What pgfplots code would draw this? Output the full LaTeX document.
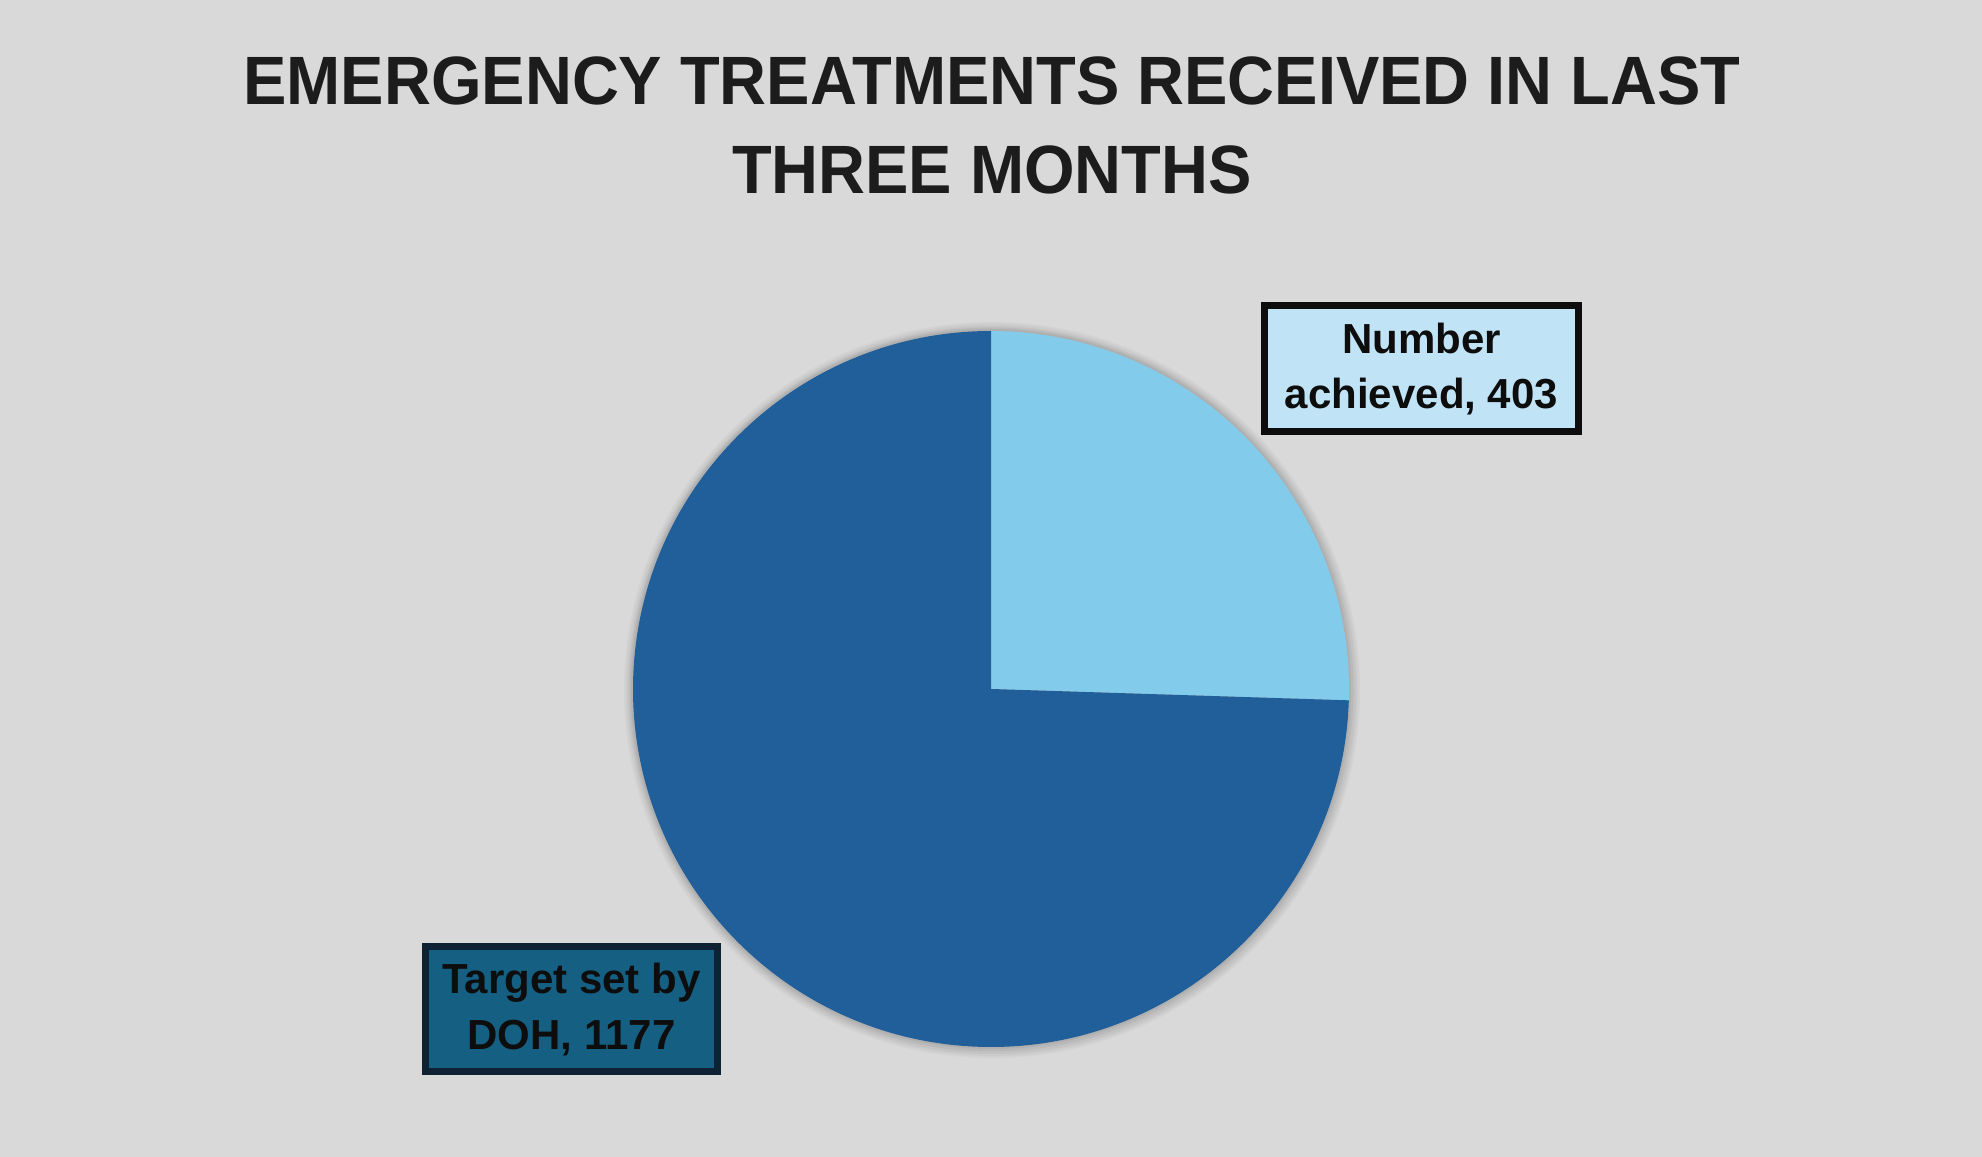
\documentclass[border=0pt]{standalone}
\usepackage{pgfplots}
\usepackage{pgfplotstable}
\pgfplotsset{compat=1.18}
\usepackage{fontspec}
\setmainfont{Liberation Sans}
\newfontfamily\titlefont[FakeStretch=0.95]{Liberation Sans}
\definecolor{bg}{HTML}{D9D9D9}
\definecolor{lightslice}{HTML}{83CBEB}
\definecolor{darkslice}{HTML}{215F9A}
\definecolor{lightbox}{HTML}{C0E4F5}
\definecolor{darkbox}{HTML}{156082}
\definecolor{darkboxborder}{HTML}{0E2233}
\definecolor{titlecol}{HTML}{1C1C1C}
\definecolor{labelcol}{HTML}{0D0D0D}

\pgfplotstableread{
label value
Achieved 403
Target 1177
}\piedata
\pgfplotstablegetelem{0}{value}\of\piedata \let\va\pgfplotsretval
\pgfplotstablegetelem{1}{value}\of\piedata \let\vb\pgfplotsretval
\pgfmathsetmacro{\total}{\va+\vb}
\pgfmathsetmacro{\fracA}{\va/\total}
\pgfmathsetmacro{\angA}{90-360*\fracA}

\begin{document}
\begin{tikzpicture}
\begin{axis}[width=991pt,height=578.5pt,scale only axis,hide axis,
  xmin=0,xmax=1982,ymin=0,ymax=1157,clip=false]
\fill[bg] (axis cs:0,0) rectangle (axis cs:1982,1157);
% soft shadow
\fill[black,opacity=0.03] (axis cs:992,467) circle[radius=184pt];
\fill[black,opacity=0.03] (axis cs:992,467) circle[radius=183pt];
\fill[black,opacity=0.04] (axis cs:992,467) circle[radius=182pt];
\fill[black,opacity=0.05] (axis cs:991.5,467.5) circle[radius=181pt];
\fill[black,opacity=0.05] (axis cs:991,468) circle[radius=180pt];
% slices
\fill[lightslice] (axis cs:991,468) -- ++(90:179pt) arc[start angle=90,end angle=\angA,radius=179pt] -- cycle;
\fill[darkslice] (axis cs:991,468) -- ++(\angA:179pt) arc[start angle=\angA,end angle=-270,radius=179pt] -- cycle;
% title
\node[anchor=base,inner sep=0pt,text=titlecol,font=\titlefont\bfseries\fontsize{34.2}{40}\selectfont] at (axis cs:992,1052) {EMERGENCY TREATMENTS RECEIVED IN LAST};
\node[anchor=base,inner sep=0pt,text=titlecol,font=\titlefont\bfseries\fontsize{34.2}{40}\selectfont] at (axis cs:992,963) {THREE MONTHS};
% label boxes
\filldraw[fill=lightbox,draw=labelcol,line width=3.5pt] (axis cs:1264.5,725.5) rectangle (axis cs:1578.5,851.5);
\node[anchor=base,inner sep=0pt,text=labelcol,font=\bfseries\fontsize{21}{25}\selectfont] at (axis cs:1421.5,803) {Number};
\node[anchor=base,inner sep=0pt,text=labelcol,font=\bfseries\fontsize{21}{25}\selectfont] at (axis cs:1421.5,748) {achieved, \va};
\filldraw[fill=darkbox,draw=darkboxborder,line width=3.5pt] (axis cs:425.5,85.5) rectangle (axis cs:717.5,210.5);
\node[anchor=base,inner sep=0pt,text=labelcol,font=\bfseries\fontsize{21}{25}\selectfont] at (axis cs:571.5,163) {Target set by};
\node[anchor=base,inner sep=0pt,text=labelcol,font=\bfseries\fontsize{21}{25}\selectfont] at (axis cs:571.5,107) {DOH, \vb};
\end{axis}
\end{tikzpicture}
\end{document}
